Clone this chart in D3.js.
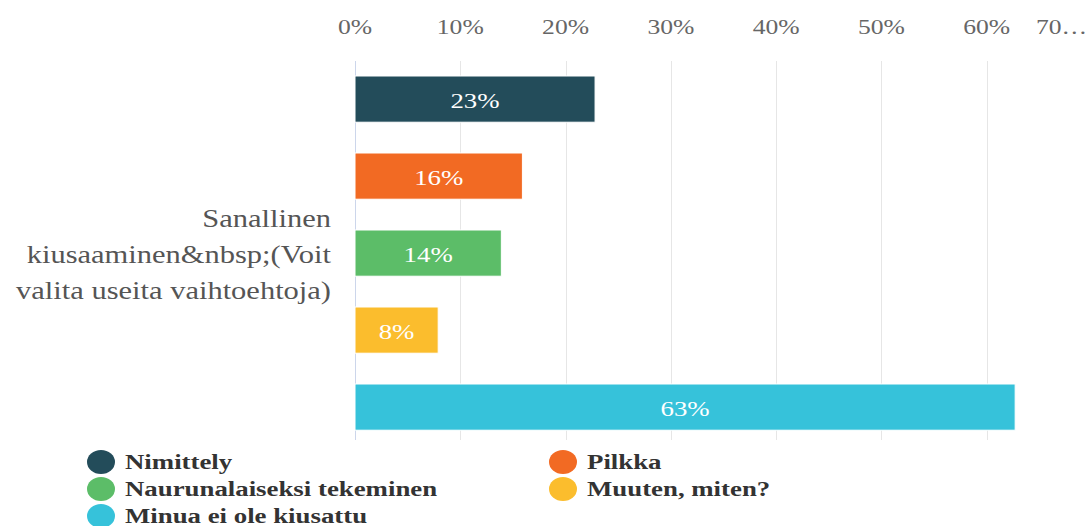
<!DOCTYPE html>
<html><head><meta charset="utf-8">
<script src="https://cdn.jsdelivr.net/npm/d3@7"></script>
<style>body{margin:0;background:#fff}svg{display:block}</style>
</head><body><svg id="c" width="1087" height="526"></svg>
<script>
const seriesNames = ["Nimittely","Pilkka","Naurunalaiseksi tekeminen","Muuten, miten?","Minua ei ole kiusattu"];
const seriesValues = [22.8,15.9,13.9,7.9,62.7];
const seriesLabels = ["23%","16%","14%","8%","63%"];
const seriesColors = ["#234c5a","#f26a23","#5cbd68","#fbbd2d","#36c2da"];
const tickValues = [0,10,20,30,40,50,60,70];
const tickLabels = ["0%","10%","20%","30%","40%","50%","60%","70…"];
const categoryLines = ["Sanallinen","kiusaaminen&nbsp;(Voit","valita useita vaihtoehtoja)"];

const FONT = '"Liberation Serif", "Times New Roman", serif';
const SX = 1.22; // horizontal stretch of the text in the reference
const svg = d3.select("#c");
const x = d3.scaleLinear().domain([0,70]).range([355,1092]);
const y = d3.scaleBand().domain(seriesNames).range([60.6,445.6]).paddingInner(0.4).paddingOuter(0.2);
const place = (fx, fy) => (d,i) => `translate(${fx(d,i)},${fy(d,i)}) scale(${SX},1)`;

// gridlines
svg.append("g").selectAll("line").data(tickValues.slice(1)).join("line")
  .attr("x1",d=>Math.round(x(d))+0.5).attr("x2",d=>Math.round(x(d))+0.5)
  .attr("y1",61).attr("y2",440).attr("stroke","#e6e6e6").attr("stroke-width",1);
svg.append("line").attr("x1",355.5).attr("x2",355.5).attr("y1",61).attr("y2",440)
  .attr("stroke","#ccd6eb");

// tick labels
svg.append("g").selectAll("text").data(tickValues).join("text")
  .attr("transform",place((d,i)=> i===7 ? 1036 : x(d), ()=>34))
  .attr("text-anchor",(d,i)=> i===7 ? "start":"middle")
  .style("font-family",FONT).attr("font-size",21).attr("fill","#666")
  .text((d,i)=>tickLabels[i]);

// bars
const bars = svg.append("g");
bars.selectAll("rect").data(seriesNames).join("rect")
  .attr("x",x(0)).attr("y",d=>y(d)).attr("height",y.bandwidth())
  .attr("width",(d,i)=>x(seriesValues[i])-x(0))
  .attr("fill",(d,i)=>seriesColors[i]).attr("stroke","#fff").attr("stroke-width",1);
bars.selectAll("text").data(seriesNames).join("text")
  .attr("transform",place((d,i)=>(x(0)+x(seriesValues[i]))/2, d=>y(d)+y.bandwidth()/2+9))
  .attr("text-anchor","middle").style("font-family",FONT).attr("font-size",22).attr("fill","#fff")
  .text((d,i)=>seriesLabels[i]);

// category label
svg.append("g").selectAll("text").data(categoryLines).join("text")
  .attr("transform",place(()=>331,(d,i)=>227+i*36)).attr("text-anchor","end")
  .style("font-family",FONT).attr("font-size",25).attr("fill","#555").text(d=>d);

// legend
const legendPos = [[101,462],[563,462],[101,489],[563,489],[101,516]];
const lg = svg.append("g").selectAll("g").data(seriesNames).join("g")
  .attr("transform",(d,i)=>`translate(${legendPos[i][0]},${legendPos[i][1]})`);
lg.append("ellipse").attr("rx",14).attr("ry",12).attr("fill",(d,i)=>seriesColors[i]);
lg.append("text").attr("transform",`translate(24,7) scale(${SX},1)`).attr("font-weight","bold")
  .style("font-family",FONT).attr("font-size",22).attr("fill","#333").text(d=>d);
</script></body></html>
